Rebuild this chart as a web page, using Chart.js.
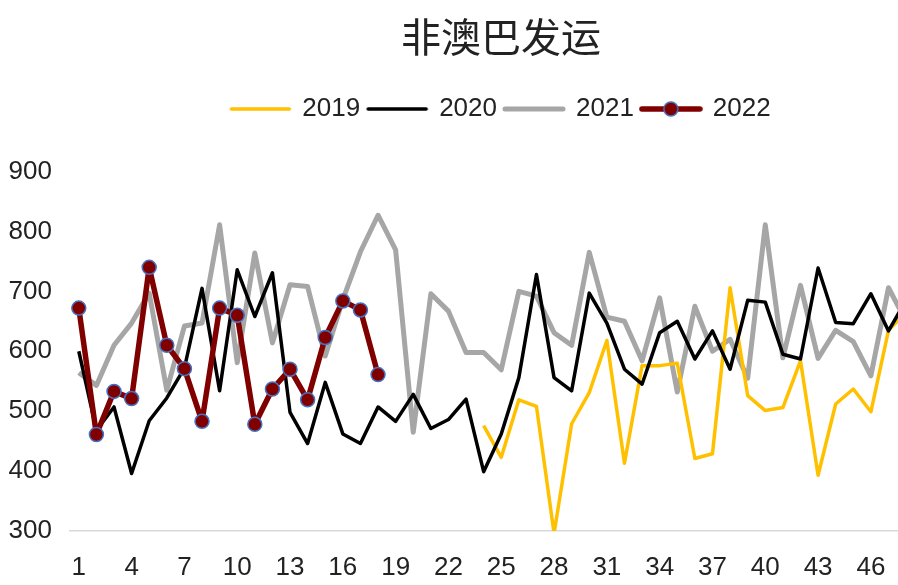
<!DOCTYPE html>
<html>
<head>
<meta charset="utf-8">
<script src="https://cdn.jsdelivr.net/npm/chart.js@4/dist/chart.umd.min.js"></script>
<style>
html,body{margin:0;padding:0;background:#fff;}
#wrap{width:898px;height:585px;position:relative;}
</style>
</head>
<body>
<div id="wrap"><canvas id="c" width="898" height="585"></canvas></div>
<script>
const titleText = '非澳巴发运';
const weeks = [1,2,3,4,5,6,7,8,9,10,11,12,13,14,15,16,17,18,19,20,21,22,23,24,25,26,27,28,29,30,31,32,33,34,35,36,37,38,39,40,41,42,43,44,45,46,47,48];
const xTickLabels = [1,4,7,10,13,16,19,22,25,28,31,34,37,40,43,46];
const yTickLabels = [300,400,500,600,700,800,900];
const seriesNames = ['2019','2020','2021','2022'];

const v2019 = [null,null,null,null,null,null,null,null,null,null,null,null,null,null,null,null,null,null,null,null,null,null,null,
  476,423,519,508,296,479,531,618,413,576,576,580,421,429,706,526,501,506,584,393,512,537,499,635,665];
const v2020 = [600,468,507,396,484,522,572,705,534,736,658,731,498,446,548,462,446,507,483,528,471,486,520,
  399,462,556,728,556,534,697,647,570,545,631,650,587,634,570,685,682,595,587,739,648,646,696,634,685];
const v2021 = [564,543,610,647,697,535,642,647,811,581,764,614,711,708,592,686,766,827,769,465,696,667,598,
  598,569,700,692,631,610,765,657,650,584,689,532,675,600,620,555,811,589,710,588,635,616,559,706,650];
const v2022 = [672,461,533,521,740,610,571,483,672,660,478,537,570,519,623,684,669,561];

const colors = ['#FFC000', '#000000', '#A6A6A6', '#800000'];
const widths = [3.5, 3.5, 5, 5.5];

function toPoints(arr){ return arr.map((v,i)=>({x: weeks[i], y: v})); }

function makeIcon(color, lw, marker){
  const c = document.createElement('canvas');
  c.width = 64; c.height = 20;
  const g = c.getContext('2d');
  g.strokeStyle = color; g.lineWidth = lw; g.lineCap = 'round';
  g.beginPath(); g.moveTo(3,10); g.lineTo(61,10); g.stroke();
  if (marker){
    g.beginPath(); g.arc(32,10,7,0,Math.PI*2);
    g.fillStyle = color; g.fill();
    g.lineWidth = 1.5; g.strokeStyle = '#4472C4'; g.stroke();
  }
  return c;
}
const icons = [makeIcon(colors[0],widths[0],false), makeIcon(colors[1],widths[1],false),
               makeIcon(colors[2],widths[2],false), makeIcon(colors[3],widths[3],true)];

const shiftPlugin = {
  id: 'shiftBoxes',
  afterLayout(chart){
    const dx = 52;
    const t = chart.titleBlock;
    if (t){ t.left += dx; t.right += dx; }
    const l = chart.legend;
    if (l){ l.left += dx; l.right += dx; l.top -= 39.5; l.bottom -= 39.5; }
  }
};

Chart.defaults.font.family = '"Liberation Sans", Arial, Helvetica, sans-serif';
Chart.defaults.color = '#222';

new Chart(document.getElementById('c'), {
  type: 'line',
  data: {
    datasets: [
      {label: seriesNames[0], data: toPoints(v2019), borderColor: colors[0], borderWidth: widths[0], pointRadius: 0, order: 2},
      {label: seriesNames[1], data: toPoints(v2020), borderColor: colors[1], borderWidth: widths[1], pointRadius: 0, order: 1},
      {label: seriesNames[2], data: toPoints(v2021), borderColor: colors[2], borderWidth: widths[2], pointRadius: 0, order: 3},
      {label: seriesNames[3], data: toPoints(v2022), borderColor: colors[3], borderWidth: widths[3],
        pointRadius: 7, pointBackgroundColor: colors[3], pointBorderColor: '#4472C4', pointBorderWidth: 1.5, order: 0}
    ]
  },
  options: {
    responsive: false,
    animation: false,
    devicePixelRatio: 1,
    events: [],
    layout: {autoPadding: false, padding: {top: 13, left: 0, right: 0, bottom: 0}},
    elements: {line: {tension: 0, borderJoinStyle: 'round', borderCapStyle: 'butt'}},
    plugins: {
      tooltip: {enabled: false},
      title: {
        display: true, text: titleText, color: '#222',
        font: {size: 40, family: '"Noto Sans CJK SC", sans-serif', weight: 'normal'},
        padding: {top: 0, bottom: 66.5}
      },
      legend: {
        display: true, position: 'top',
        labels: {
          usePointStyle: true, pointStyleWidth: 58, padding: 8,
          font: {size: 26}, color: '#222',
          generateLabels: (chart) => chart.data.datasets.map((ds, i) => ({
            text: ds.label, pointStyle: icons[i], fillStyle: colors[i], strokeStyle: colors[i],
            lineWidth: 0, hidden: false, datasetIndex: i, fontColor: '#222'
          }))
        }
      }
    },
    scales: {
      x: {
        type: 'linear', min: 0.5, max: 47.54,
        grid: {display: true, drawOnChartArea: false, drawTicks: true, tickLength: 15, tickColor: 'rgba(0,0,0,0)'},
        border: {display: true, color: '#d9d9d9', width: 1.5},
        ticks: {autoSkip: false, maxRotation: 0, padding: 6, font: {size: 26}, color: '#222'},
        afterBuildTicks: (scale) => { scale.ticks = xTickLabels.map(v => ({value: v})); },
        afterFit: (scale) => { scale.height = 54; }
      },
      y: {
        type: 'linear', min: 300, max: 900,
        grid: {display: false, drawTicks: false},
        border: {display: false},
        ticks: {padding: 18, font: {size: 26}, color: '#222'},
        afterBuildTicks: (scale) => { scale.ticks = yTickLabels.map(v => ({value: v})); },
        afterFit: (scale) => { scale.width = 70; }
      }
    }
  },
  plugins: [shiftPlugin]
});
</script>
</body>
</html>
